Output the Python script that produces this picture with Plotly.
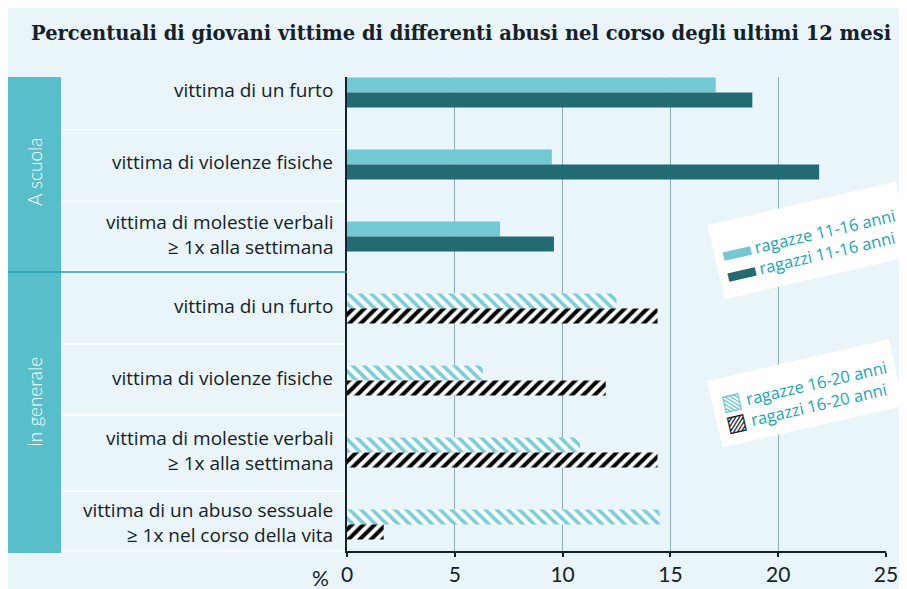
import plotly.graph_objects as go

# dati (percentuali)
etichette_scuola = ["vittima di un furto", "vittima di violenze fisiche",
                    "vittima di molestie verbali<br>≥ 1x alla settimana"]
etichette_generale = ["vittima di un furto", "vittima di violenze fisiche",
                      "vittima di molestie verbali<br>≥ 1x alla settimana",
                      "vittima di un abuso sessuale<br>≥ 1x nel corso della vita"]
ragazze_11_16 = [17.1, 9.5, 7.1]
ragazzi_11_16 = [18.8, 21.9, 9.6]
ragazze_16_20 = [12.5, 6.3, 10.8, 14.5]
ragazzi_16_20 = [14.4, 12.0, 14.4, 1.7]
tick_x = [0, 5, 10, 15, 20, 25]

W, H = 907, 589
OFF = 8  # margine del body nella pagina
L, T, pw, ph = 339, 69, 539, 474
R, B = W - L - pw, H - T - ph

# posizioni in pixel della pagina -> coordinate paper
def px(x):
    return (x - OFF - L) / pw

def py(y):
    return (T + ph - (y - OFF)) / ph

# colori
bg = "#e9f5f8"
teal_strip = "#58bfca"
light = "#72c9d3"
dark = "#236b73"
ink = "#14212b"
teal_txt = "#1aa6b5"
grid = "#8eadb4"
hatch_bg = "#f6fbfc"

pos_scuola = [0, 1, 2]
pos_generale = [3, 4, 5, 6]
bw = 0.208

fig = go.Figure()
fig.add_trace(go.Bar(orientation="h", x=ragazze_11_16, y=pos_scuola, width=bw, offset=-bw,
                     marker=dict(color=light, line=dict(width=0))))
fig.add_trace(go.Bar(orientation="h", x=ragazzi_11_16, y=pos_scuola, width=bw, offset=0,
                     marker=dict(color=dark, line=dict(width=0))))
fig.add_trace(go.Bar(orientation="h", x=ragazze_16_20, y=pos_generale, width=bw, offset=-bw,
                     marker=dict(color=hatch_bg, opacity=1, line=dict(width=0),
                                 pattern=dict(shape="\\", fgcolor="#7ccdd6", bgcolor=hatch_bg,
                                              size=8, solidity=0.45, fgopacity=1))))
fig.add_trace(go.Bar(orientation="h", x=ragazzi_16_20, y=pos_generale, width=bw, offset=0,
                     marker=dict(color=hatch_bg, opacity=1, line=dict(width=0),
                                 pattern=dict(shape="/", fgcolor="#000000", bgcolor=hatch_bg,
                                              size=8, solidity=0.5, fgopacity=1))))

shapes = [
    dict(type="rect", xref="paper", yref="paper", x0=px(0), x1=px(61), y0=py(553), y1=py(77),
         fillcolor=teal_strip, line=dict(width=0), layer="below"),
]
for yy in [129.5, 201, 344, 415, 491, 551]:
    shapes.append(dict(type="line", xref="paper", yref="paper", x0=px(61), x1=px(347),
                       y0=py(yy), y1=py(yy), line=dict(color="white", width=1.5), layer="below"))
shapes.append(dict(type="line", xref="paper", yref="paper", x0=px(0), x1=px(347),
                   y0=py(272), y1=py(272), line=dict(color=teal_txt, width=1.5)))

ann = []
ann.append(dict(text="<b>Percentuali di giovani vittime di differenti abusi nel corso degli ultimi 12 mesi</b>",
                xref="paper", yref="paper", x=px(29), y=py(33), xanchor="left", yanchor="middle",
                showarrow=False, font=dict(family="DejaVu Serif", size=19.5, color=ink)))
for lab, p in zip(etichette_scuola + etichette_generale, pos_scuola + pos_generale):
    ann.append(dict(text=lab, xref="paper", yref="y", x=px(335), y=p - 0.03, xanchor="right",
                    yanchor="middle", align="right", showarrow=False,
                    font=dict(family="Open Sans", size=19, color=ink)))
ann.append(dict(text="A scuola", xref="paper", yref="paper", x=px(34), y=py(172), textangle=-90,
                xanchor="center", yanchor="middle", showarrow=False,
                font=dict(family="Lato", size=19, color="white", weight=300)))
ann.append(dict(text="In generale", xref="paper", yref="paper", x=px(34), y=py(402), textangle=-90,
                xanchor="center", yanchor="middle", showarrow=False,
                font=dict(family="Lato", size=19, color="white", weight=300)))
ann.append(dict(text="%", xref="paper", yref="paper", x=px(320), y=py(577), showarrow=False,
                xanchor="center", yanchor="middle",
                font=dict(family="Lato", size=21, color=ink)))
sw = "font-size:28px"
ann.append(dict(text=f"<span style='color:{light};{sw}'>▬</span> ragazze 11-16 anni<br>"
                     f"<span style='color:{dark};{sw}'>▬</span> ragazzi 11-16 anni",
                xref="paper", yref="paper", x=px(810), y=py(240), xanchor="center", yanchor="middle",
                align="left", textangle=-13, bgcolor="white", borderpad=8, showarrow=False,
                font=dict(family="Open Sans", size=16.5, color=teal_txt)))
ann.append(dict(text=f"<span style='color:{light};font-size:22px'>▧</span> ragazze 16-20 anni<br>"
                     f"<span style='color:{ink};font-size:22px'>▨</span> ragazzi 16-20 anni",
                xref="paper", yref="paper", x=px(805), y=py(393), xanchor="center", yanchor="middle",
                align="left", textangle=-13, bgcolor="white", borderpad=8, showarrow=False,
                font=dict(family="Open Sans", size=16.5, color=teal_txt)))

fig.update_layout(
    width=W, height=H, autosize=False,
    margin=dict(l=L, r=R, t=T, b=B),
    paper_bgcolor=bg, plot_bgcolor="rgba(0,0,0,0)",
    showlegend=False, barmode="overlay",
    shapes=shapes, annotations=ann,
    xaxis=dict(range=[0, 25], tickvals=tick_x, showgrid=True, gridcolor=grid, gridwidth=1,
               zeroline=False, showline=True, linecolor=ink, linewidth=2,
               ticks="outside", ticklen=4, tickcolor=ink, tickwidth=1.5,
               tickfont=dict(family="Lato", size=21, color=ink)),
    yaxis=dict(range=[6.368, -0.215], showticklabels=False, showgrid=False, zeroline=False,
               showline=True, linecolor=ink, linewidth=2),
)

fig.write_html("out.html")
